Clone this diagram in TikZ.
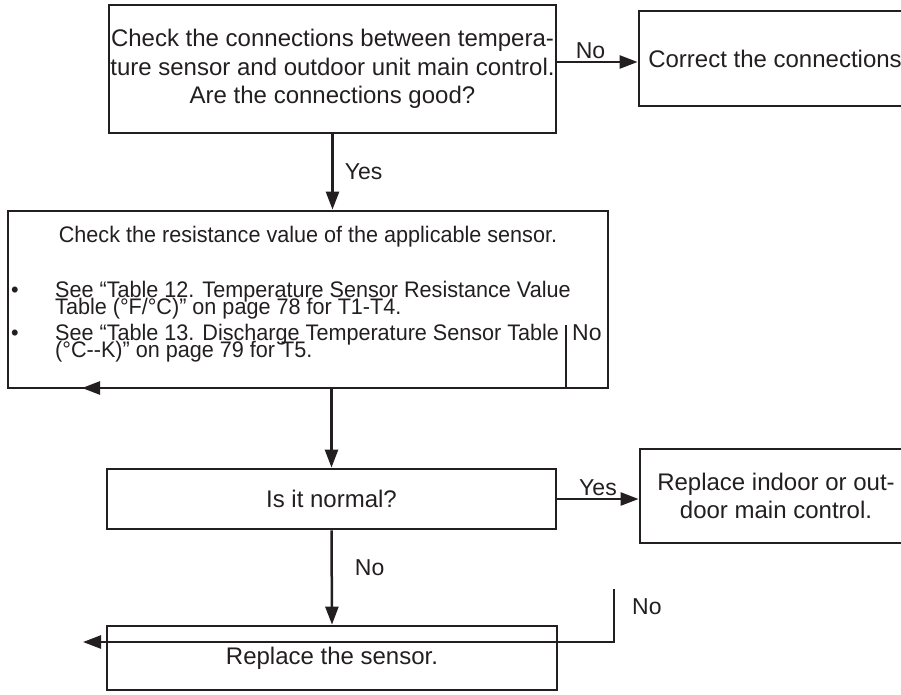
\documentclass[tikz,border=0pt]{standalone}
\usepackage{fontspec}
\setmainfont{Liberation Sans}
\newfontfamily\narrowfont{Liberation Sans}[FakeStretch=0.96]
\usetikzlibrary{arrows.meta,positioning}
\definecolor{ink}{RGB}{35,31,32}
\newcommand\tightlines{\lineskiplimit=-100pt\relax}

\begin{document}
\begin{tikzpicture}[
        x=1pt, y=-1pt,
        every node/.style={text=ink},
        box/.style={rectangle, draw=ink, line width=2.8pt, inner sep=1pt, align=center,
                    font=\fontsize{24}{28.5}\selectfont},
        arrow/.style={-{Triangle[length=18pt,width=13pt]}, draw=ink, line width=2.5pt},
        lbl/.style={font=\fontsize{23}{26}\selectfont, inner sep=2pt},
        note/.style={font={\narrowfont\fontsize{22.5}{17}\selectfont\tightlines},
                     align=left, inner sep=0pt}
    ]

    \useasboundingbox (0,0) rectangle (901,694);

    % boxes of the flow
    \node[box, minimum width=447pt, minimum height=128pt] (conn) at (332.5,69)
        {Check the connections between tempera-\\ture sensor and outdoor unit main control.\\Are the connections good?};
    \node[box, minimum width=272pt, minimum height=95pt] (fix) at (775,58.5) {Correct the connections};
    \node[box, minimum width=600pt, minimum height=177pt] (resist) at (308,299.5) {};
    \node[box, minimum width=449pt, minimum height=60pt] (normal) at (331.5,499) {Is it normal?};
    \node[box, minimum width=272pt, minimum height=94pt] (board) at (776,496)
        {Replace indoor or out-\\door main control.};
    \node[box, minimum width=450pt, minimum height=64pt] (sensor) at (332,658) {Replace the sensor.};

    % text of the resistance check (base = last line)
    \node[note, anchor=base] (title) at (308,242) {Check the resistance value of the applicable sensor.};
    \node[note, anchor=base] (dotA) at (15,297) {•};
    \node[note, anchor=base west] (itemA) at (55,314)
        {See “Table 12. Temperature Sensor Resistance Value\\Table (°F/°C)” on page 78 for T1-T4.};
    \node[note, anchor=base] (dotB) at (15,340) {•};
    \node[note, anchor=base west] (itemB) at (55,357)
        {See “Table 13. Discharge Temperature Sensor Table\\(°C-{}-K)” on page 79 for T5.};

    % connectors
    \coordinate (noA) at ([yshift=7pt]conn.east);
    \draw[arrow] (noA) -- (noA -| fix.west) node[lbl, midway, above, xshift=-7pt] (noFix) {No};
    \draw[arrow] (conn.south) -- (conn.south |- resist.north) node[lbl, midway, right, xshift=9pt] (yesConn) {Yes};
    \draw[arrow] (normal.north |- resist.south) -- (normal.north);
    \draw[arrow] (normal.east) -- (normal.east -| board.west) node[lbl, midway, above] (yesBoard) {Yes};
    \draw[arrow] (normal.south) -- (sensor.north) node[lbl, pos=0.4, right, xshift=20pt] (noSensor) {No};

    % loose "No" returns
    \coordinate (stubA) at (566,325);
    \coordinate (tipA) at (82,388);
    \draw[arrow] (stubA) -- (stubA |- tipA) -- (tipA);
    \node[lbl, anchor=north west] (noStubA) at ([xshift=4pt, yshift=3pt]stubA) {No};

    \coordinate (stubB) at (614,589);
    \coordinate (tipB) at (83,642);
    \draw[arrow] (stubB) -- (stubB |- tipB) -- (tipB);
    \node[lbl, anchor=north west] (noStubB) at ([xshift=16pt, yshift=-7pt]stubB) {No};

\end{tikzpicture}
\end{document}
